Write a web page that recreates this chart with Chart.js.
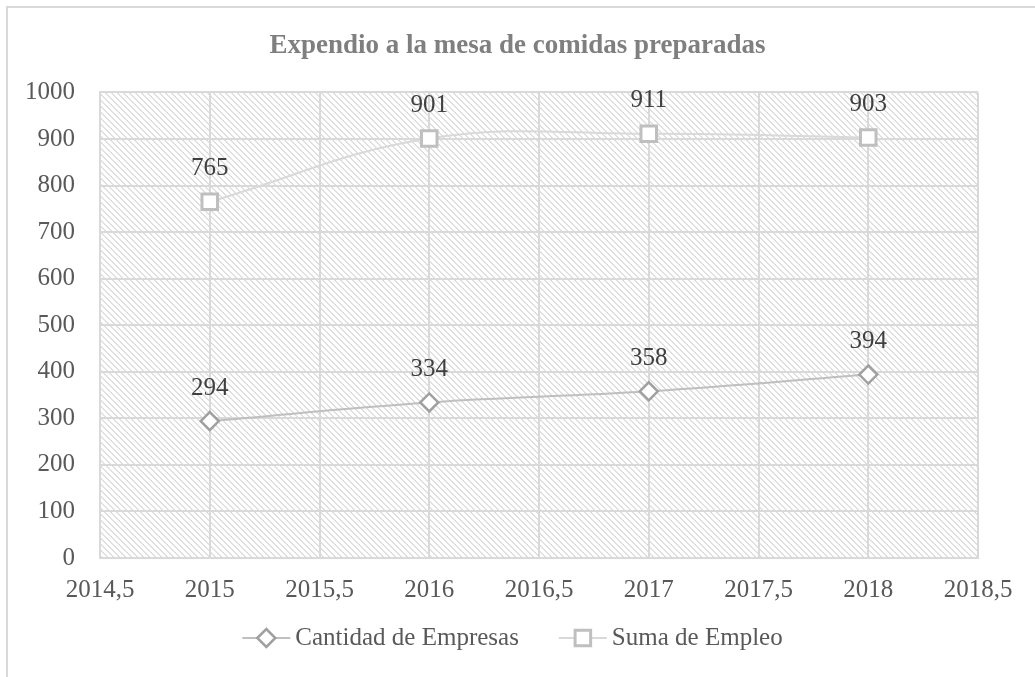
<!DOCTYPE html>
<html>
<head>
<meta charset="utf-8">
<script src="https://cdn.jsdelivr.net/npm/chart.js@4"></script>
<style>
html, body { margin: 0; padding: 0; background: #fff; }
#wrap { width: 1035px; height: 677px; position: relative; }
</style>
</head>
<body>
<div id="wrap"><canvas id="chart"></canvas></div>
<script>
// datos
let years = [2015, 2016, 2017, 2018];
let empresas = [294, 334, 358, 394];
let empleo = [765, 901, 911, 903];
let seriesNames = ['Cantidad de Empresas', 'Suma de Empleo'];
let chartTitle = 'Expendio a la mesa de comidas preparadas';
let xMin = 2014.5, xMax = 2018.5, xStep = 0.5;
let yMin = 0, yMax = 1000, yStep = 100;

let serif = '"Liberation Serif", "Times New Roman", serif';

function toPoints(values){
	return years.map((y, i) => ({x: y, y: values[i]}));
}

// trama diagonal del area de trazado
function makeHatch(){
	let p = 6;
	let c = document.createElement('canvas');
	c.width = p; c.height = p;
	let cx = c.getContext('2d');
	let img = cx.createImageData(p, p);
	for(let y = 0; y < p; y++){
		for(let x = 0; x < p; x++){
			let k = ((x - y) % p + p) % p;
			let v = (k < 2) ? 224 : 255;
			let i = (y * p + x) * 4;
			img.data[i] = v; img.data[i+1] = v; img.data[i+2] = v; img.data[i+3] = 255;
		}
	}
	cx.putImageData(img, 0, 0);
	return c;
}
let hatch = makeHatch();

let backgroundPlugin = {
	id: 'bg',
	beforeDraw(chart){
		let ctx = chart.ctx;
		let a = chart.chartArea;
		ctx.save();
		ctx.fillStyle = '#fff';
		ctx.fillRect(0, 0, chart.width, chart.height);
		ctx.strokeStyle = '#d9d9d9';
		ctx.lineWidth = 2;
		ctx.beginPath();
		ctx.moveTo(7, chart.height);
		ctx.lineTo(7, 7);
		ctx.lineTo(chart.width, 7);
		ctx.stroke();
		ctx.fillStyle = ctx.createPattern(hatch, 'repeat');
		ctx.fillRect(a.left, a.top, a.right - a.left, a.bottom - a.top);
		ctx.restore();
	}
};

let labelsPlugin = {
	id: 'valueLabels',
	afterDatasetsDraw(chart){
		let ctx = chart.ctx;
		ctx.save();
		ctx.font = '25px ' + serif;
		ctx.fillStyle = '#404040';
		ctx.textAlign = 'center';
		ctx.textBaseline = 'middle';
		chart.data.datasets.forEach((ds, i) => {
			chart.getDatasetMeta(i).data.forEach((pt, j) => {
				ctx.fillText(String(ds.data[j].y), pt.x, pt.y - 33);
			});
		});
		ctx.restore();
	}
};

function drawMarker(ctx, style, x, y, r){
	ctx.beginPath();
	if(style == 'rectRot'){
		ctx.moveTo(x - r, y);
		ctx.lineTo(x, y - r);
		ctx.lineTo(x + r, y);
		ctx.lineTo(x, y + r);
		ctx.closePath();
	}else{
		let s = r * Math.SQRT1_2;
		ctx.rect(x - s, y - s, 2 * s, 2 * s);
	}
	ctx.fill();
	ctx.stroke();
}

let legendPlugin = {
	id: 'lineLegend',
	afterDraw(chart){
		let ctx = chart.ctx;
		ctx.save();
		ctx.font = '25px ' + serif;
		let sym = 48, gap = 5, space = 40;
		let widths = chart.data.datasets.map(ds => ctx.measureText(ds.label).width);
		let total = widths.reduce((s, w) => s + sym + gap + w, 0) + space * (widths.length - 1);
		let x = chart.width / 2 - 5 - total / 2;
		let y = 638;
		chart.data.datasets.forEach((ds, i) => {
			ctx.strokeStyle = ds.borderColor;
			ctx.lineWidth = ds.borderWidth;
			ctx.beginPath();
			ctx.moveTo(x, y);
			ctx.lineTo(x + sym, y);
			ctx.stroke();
			ctx.fillStyle = ds.pointBackgroundColor;
			ctx.strokeStyle = ds.pointBorderColor;
			ctx.lineWidth = ds.pointBorderWidth;
			drawMarker(ctx, ds.pointStyle, x + sym / 2, y, ds.pointRadius);
			ctx.fillStyle = '#595959';
			ctx.textAlign = 'left';
			ctx.textBaseline = 'middle';
			ctx.fillText(ds.label, x + sym + gap, y);
			x += sym + gap + widths[i] + space;
		});
		ctx.restore();
	}
};

let ctx = document.getElementById('chart').getContext('2d');

let chart = new Chart(ctx, {
	type: 'line',
	data: {
		datasets: [{
			label: seriesNames[0],
			data: toPoints(empresas),
			borderColor: '#bfbfbf',
			borderWidth: 2,
			tension: 0.4,
			pointStyle: 'rectRot',
			pointRadius: 9,
			pointHoverRadius: 9,
			pointBackgroundColor: '#ffffff',
			pointBorderColor: '#a0a0a0',
			pointBorderWidth: 2.5
		},{
			label: seriesNames[1],
			data: toPoints(empleo),
			borderColor: '#d9d9d9',
			borderWidth: 2,
			tension: 0.4,
			pointStyle: 'rect',
			pointRadius: 11,
			pointHoverRadius: 11,
			pointBackgroundColor: '#ffffff',
			pointBorderColor: '#bfbfbf',
			pointBorderWidth: 3
		}]
	},
	options: {
		responsive: true,
		maintainAspectRatio: false,
		animation: false,
		layout: { padding: { left: 0, right: 0, top: 0, bottom: 59 } },
		plugins: {
			legend: { display: false },
			tooltip: { enabled: false },
			title: {
				display: true,
				text: chartTitle,
				color: '#7f7f7f',
				font: { family: serif, size: 27, weight: 'bold' },
				padding: { top: 30, bottom: 30 }
			}
		},
		scales: {
			x: {
				type: 'linear',
				min: xMin,
				max: xMax,
				afterFit(scale){ scale.height = 60; scale.paddingRight = 57; },
				grid: { color: '#d9d9d9', lineWidth: 2, drawTicks: false },
				border: { color: '#d9d9d9', width: 2 },
				ticks: {
					stepSize: xStep,
					padding: 17,
					color: '#595959',
					font: { family: serif, size: 25 },
					maxRotation: 0,
					callback: v => String(v).replace('.', ',')
				}
			},
			y: {
				min: yMin,
				max: yMax,
				afterFit(scale){ scale.width = 100; },
				grid: { color: '#d9d9d9', lineWidth: 2, drawTicks: false },
				border: { color: '#d9d9d9', width: 2 },
				ticks: {
					stepSize: yStep,
					padding: 25,
					color: '#595959',
					font: { family: serif, size: 25 },
					callback: v => String(v)
				}
			}
		}
	},
	plugins: [backgroundPlugin, labelsPlugin, legendPlugin]
});
</script>
</body>
</html>
